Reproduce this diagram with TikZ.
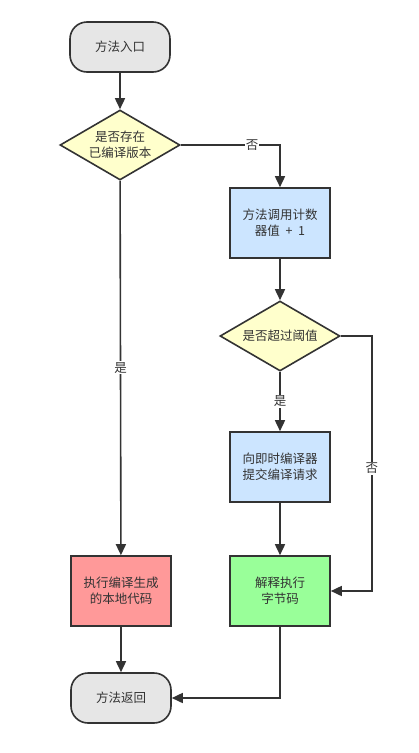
\documentclass[tikz,border=0pt]{standalone}
\usepackage{fontspec}
\setmainfont{Noto Sans CJK SC}
\usetikzlibrary{shapes.geometric, arrows.meta}

\definecolor{linegray}{HTML}{333333}
\definecolor{termfill}{HTML}{E6E6E6}
\definecolor{condfill}{HTML}{FFFFCC}
\definecolor{procfill}{HTML}{CCE5FF}
\definecolor{nativefill}{HTML}{FF9999}
\definecolor{interpfill}{HTML}{99FF99}

\begin{document}
\begin{tikzpicture}[x=1pt, y=1pt, node distance=120pt,
        font=\fontsize{12.5}{16}\selectfont, text=linegray,
        terminal/.style={draw=linegray, line width=1.6pt, rectangle, rounded corners=17pt, fill=termfill, minimum height=50pt, minimum width=100pt},
        decision/.style={draw=linegray, line width=1.6pt, diamond, aspect=1.7, inner sep=0pt, fill=condfill, minimum height=70pt, minimum width=120pt, align=center},
        process/.style={draw=linegray, line width=1.6pt, rectangle, minimum height=70pt, minimum width=100pt, align=center},
        arrow/.style={-{Triangle[length=11pt, width=10pt]}, draw=linegray, line width=1.6pt},
        answer/.style={fill=white, inner sep=1pt}]
        \useasboundingbox (0,0) rectangle (419,-753);

        \node[terminal] (entry) at (120,-47) {方法入口};
        \node[decision, below of=entry, yshift=22pt] (compiled) {是否存在\\已编译版本};
        \node[process, fill=procfill, right of=compiled, xshift=40pt, yshift=-78pt] (counter) {方法调用计数\\器值\hspace{0.45em}+\hspace{0.45em}1};
        \node[decision, below of=counter, yshift=7pt] (threshold) {是否超过阈值};
        \node[process, fill=procfill, below of=threshold, yshift=-11pt] (submit) {向即时编译器\\提交编译请求};
        \node[process, fill=interpfill, below of=submit, yshift=-4pt] (interp) {解释执行\\字节码};
        \node[process, fill=nativefill, left of=interp, xshift=-39pt] (native) {执行编译生成\\的本地代码};
        \node[terminal, below of=native, yshift=13pt] (exit) {方法返回};

        \draw[arrow] (entry) -- (compiled);
        \draw[arrow] (compiled.east) -| node[answer, pos=0.36] {否} (counter.north);
        \draw[arrow] (compiled) -- node[answer] {是} (native);
        \draw[arrow] (counter) -- (threshold);
        \draw[arrow] (threshold) -- node[answer] {是} (submit);
        \draw[arrow] (threshold.east) -- ++(31,0) |- node[answer, pos=0.26] {否} (interp.east);
        \draw[arrow] (submit) -- (interp);
        \draw[arrow] (native) -- (exit);
        \draw[arrow] (interp.south) |- (exit.east);
    \end{tikzpicture}
\end{document}
